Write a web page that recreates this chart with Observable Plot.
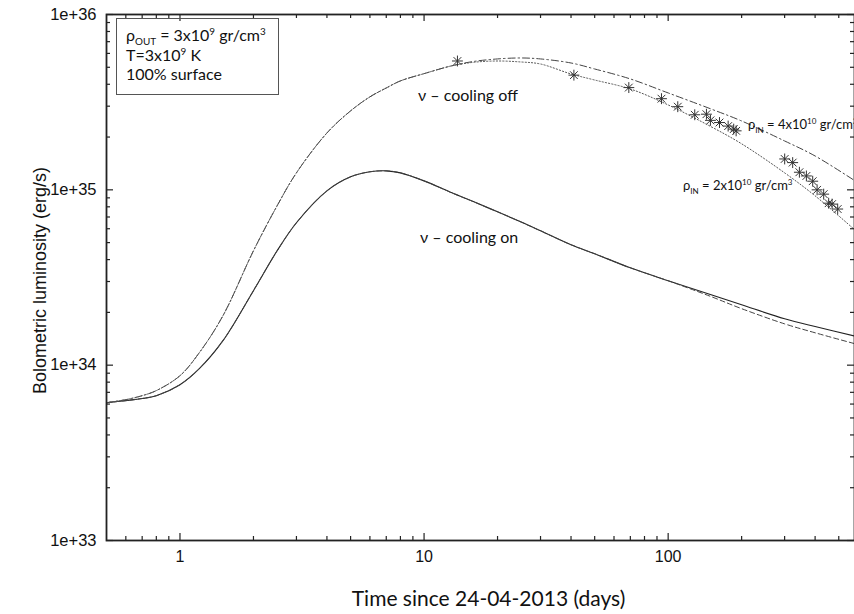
<!DOCTYPE html>
<html><head><meta charset="utf-8">
<script src="https://cdn.jsdelivr.net/npm/d3@7"></script>
<script src="https://cdn.jsdelivr.net/npm/@observablehq/plot@0.6"></script>
<style>
html,body{margin:0;padding:0;background:#fff;overflow:hidden}
#wrap{position:relative;width:854px;height:614px}
#wrap svg{position:absolute;left:0;top:0}
.ann{position:absolute;font-family:Lato,"Open Sans",sans-serif;color:#111;white-space:nowrap;line-height:1}
.ann sub,.ann sup{font-size:0.62em;line-height:0}
.box{left:116px;top:18px;width:163px;height:77px;border:1px solid #555;box-sizing:border-box;font-size:16px;padding:8px 0 0 9px}
.box div{height:19.5px}
</style></head><body><div id="wrap"></div>
<script>
// sample times (days)
const times = [0.5,0.6,0.7,0.8,1,1.2,1.5,2,2.5,3,4,5,6,7,8,10,13,16,20,25,30,40,50,70,100,150,200,300,400,600];
// nu-cooling on (solid)
const coolingOn = [6.11e33,6.28e33,6.45e33,6.70e33,7.74e33,9.55e33,1.379e34,2.66e34,4.49e34,6.49e34,9.87e34,1.186e35,1.267e35,1.283e35,1.250e35,1.125e35,9.61e34,8.54e34,7.49e34,6.55e34,5.84e34,4.86e34,4.32e34,3.59e34,3.03e34,2.52e34,2.21e34,1.84e34,1.66e34,1.45e34];
// nu-cooling on, variant (dashed)
const coolingOnB = [6.11e33,6.28e33,6.45e33,6.70e33,7.74e33,9.55e33,1.379e34,2.66e34,4.49e34,6.49e34,9.87e34,1.186e35,1.267e35,1.283e35,1.250e35,1.125e35,9.61e34,8.54e34,7.49e34,6.55e34,5.84e34,4.86e34,4.32e34,3.59e34,3.03e34,2.46e34,2.10e34,1.72e34,1.53e34,1.31e34];
// nu-cooling off, rho_IN = 4e10 (dash-dot)
const coolingOff4 = [6.11e33,6.36e33,6.70e33,7.16e33,8.71e33,1.178e34,1.915e34,4.49e34,8.11e34,1.250e35,2.11e35,2.82e35,3.39e35,3.81e35,4.18e35,4.60e35,5.10e35,5.40e35,5.58e35,5.65e35,5.58e35,5.29e35,4.89e35,4.29e35,3.57e35,2.89e35,2.47e35,1.90e35,1.56e35,1.096e35];
// nu-cooling off, rho_IN = 2e10 (dotted)
const coolingOff2 = [6.11e33,6.36e33,6.70e33,7.16e33,8.71e33,1.178e34,1.915e34,4.49e34,8.11e34,1.250e35,2.11e35,2.82e35,3.39e35,3.81e35,4.18e35,4.60e35,5.10e35,5.34e35,5.43e35,5.36e35,5.22e35,4.58e35,4.23e35,3.76e35,3.05e35,2.29e35,1.83e35,1.25e35,9.24e34,5.69e34];
// observations
const obsT = [13.7,41.1,69.0,93.9,109.5,128.5,143.5,149.0,162.3,176.1,185.6,189.9,300.2,323.7,344.9,368.4,391.0,407.6,433.7,454.6,469.4,494.9];
const obsL = [5.43e35,4.51e35,3.83e35,3.31e35,2.98e35,2.68e35,2.70e35,2.49e35,2.42e35,2.31e35,2.22e35,2.17e35,1.50e35,1.43e35,1.26e35,1.20e35,1.12e35,1.00e35,9.45e34,8.39e34,8.29e34,7.77e34];
// ticks
const xMajor = [1,10,100];
const xMinor = [0.6,0.7,0.8,0.9,2,3,4,5,6,7,8,9,20,30,40,50,60,70,80,90,200,300,400,500];
const yMajor = [1e33,1e34,1e35,1e36];
const yMinor = [2,3,4,5,6,7,8,9].flatMap(m => [m*1e33, m*1e34, m*1e35]);
const yTickLabels = ["1e+33","1e+34","1e+35","1e+36"];
const xTitle = "Time since 24-04-2013 (days)";
const yTitle = "Bolometric luminosity (erg/s)";

const W = 854, H = 614, mL = 106, mT = 14, mR = 0, mB = 74;
const pw = W - mL - mR, ph = H - mT - mB;
const rows = (ys) => times.map((t, i) => ({t, L: ys[i]}));
const obs = obsT.map((t, i) => ({t, L: obsL[i]}));
const col = "#222";

const chart = Plot.plot({
  width: W, height: H,
  marginLeft: mL, marginTop: mT, marginRight: mR, marginBottom: mB,
  x: {type: "log", domain: [0.5, 580], axis: null},
  y: {type: "log", domain: [1e33, 1e36], axis: null},
  style: {background: "transparent"},
  marks: [
    Plot.line(rows(coolingOn), {x: "t", y: "L", curve: "catmull-rom", stroke: col, strokeWidth: 1.1, clip: true}),
    Plot.line(rows(coolingOnB), {x: "t", y: "L", curve: "catmull-rom", stroke: "#444", strokeWidth: 1, strokeDasharray: "5,3", clip: true}),
    Plot.line(rows(coolingOff4), {x: "t", y: "L", curve: "catmull-rom", stroke: "#444", strokeWidth: 1, strokeDasharray: "7,3,1.5,3", clip: true}),
    Plot.line(rows(coolingOff2), {x: "t", y: "L", curve: "catmull-rom", stroke: "#555", strokeWidth: 1, strokeDasharray: "1.2,2", clip: true}),
    Plot.dot(obs, {x: "t", y: "L", symbol: "plus", r: 3.6, stroke: "#333", strokeWidth: 1}),
    Plot.dot(obs, {x: "t", y: "L", symbol: "times", r: 3.6, stroke: "#333", strokeWidth: 1}),
    // inward ticks
    Plot.ruleX(xMajor, {x: d => d, insetTop: ph - 7, stroke: col, strokeWidth: 1.2}),
    Plot.ruleX(xMajor, {x: d => d, insetBottom: ph - 7, stroke: col, strokeWidth: 1.2}),
    Plot.ruleX(xMinor, {x: d => d, insetTop: ph - 4, stroke: col, strokeWidth: 1.2}),
    Plot.ruleX(xMinor, {x: d => d, insetBottom: ph - 4, stroke: col, strokeWidth: 1.2}),
    Plot.ruleY(yMajor, {y: d => d, insetRight: pw - 7, stroke: col, strokeWidth: 1.2}),
    Plot.ruleY(yMajor, {y: d => d, insetLeft: pw - 7, stroke: col, strokeWidth: 1.2}),
    Plot.ruleY(yMinor, {y: d => d, insetRight: pw - 4, stroke: col, strokeWidth: 1.2}),
    Plot.ruleY(yMinor, {y: d => d, insetLeft: pw - 4, stroke: col, strokeWidth: 1.2}),
    Plot.frame({stroke: col, strokeWidth: 1.8}),
    Plot.axisX({anchor: "bottom", ticks: xMajor, tickFormat: d => String(d), tickSize: 0, tickPadding: 10,
      fontSize: 16, fontFamily: "Liberation Sans", fill: "#111", label: null}),
    Plot.axisY({anchor: "left", ticks: yMajor, tickFormat: d => yTickLabels[yMajor.indexOf(d)], tickSize: 0, tickPadding: 10,
      fontSize: 16.5, fontFamily: "Liberation Sans", fill: "#111", label: null}),
    Plot.text([xTitle], {frameAnchor: "bottom", textAnchor: "middle", lineAnchor: "bottom", text: d => d, dx: 8, dy: 65, fontSize: 21, fontFamily: "Lato", fill: "#111"}),
    Plot.text([yTitle], {frameAnchor: "left", textAnchor: "middle", lineAnchor: "middle", text: d => d, dx: -66, dy: 3, rotate: -90, fontSize: 18, fontFamily: "Liberation Sans", fill: "#111"})
  ]
});
const wrap = document.getElementById("wrap");
wrap.appendChild(chart);

const anns = [
  {cls: "ann box", html: "<div>&rho;<sub>OUT</sub> = 3x10<sup>9</sup> gr/cm<sup>3</sup></div><div>T=3x10<sup>9</sup> K</div><div>100% surface</div>"},
  {cls: "ann", style: "left:418px;top:87px;font-size:16px", html: "&nu; &ndash; cooling off"},
  {cls: "ann", style: "left:420px;top:229px;font-size:16px", html: "&nu; &ndash; cooling on"},
  {cls: "ann", style: "left:748px;top:118px;font-size:13px", html: "&rho;<sub>IN</sub> = 4x10<sup>10</sup> gr/cm<sup>3</sup>"},
  {cls: "ann", style: "left:683px;top:179px;font-size:13px", html: "&rho;<sub>IN</sub> = 2x10<sup>10</sup> gr/cm<sup>3</sup>"}
];
for (const a of anns) {
  const d = document.createElement("div");
  d.className = a.cls;
  if (a.style) d.setAttribute("style", a.style);
  d.innerHTML = a.html;
  wrap.appendChild(d);
}
</script>
</body></html>
